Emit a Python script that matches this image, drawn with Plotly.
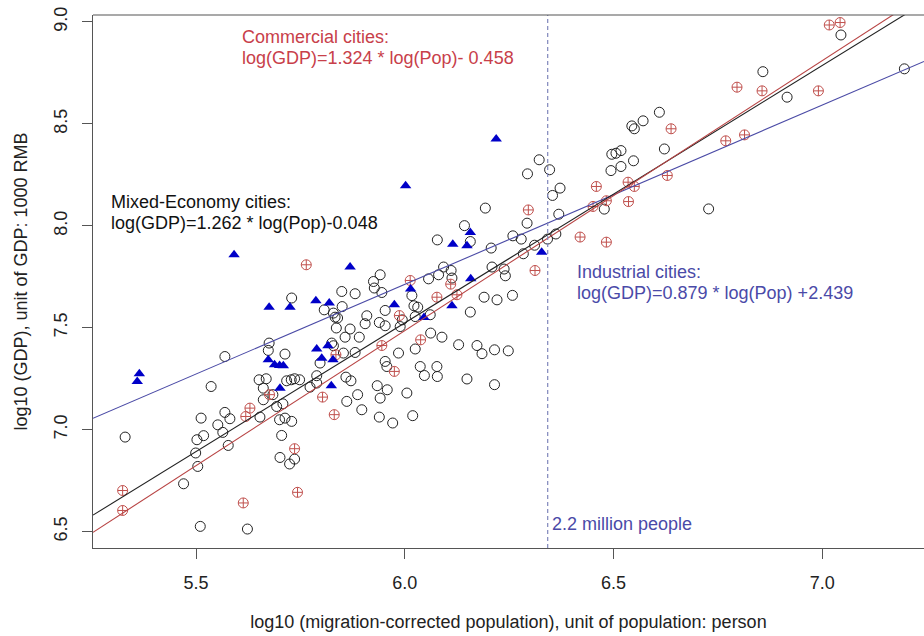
import math
import plotly.graph_objects as go

# ---- data (log10 population, log10 GDP) ----
mixed_x = [5.330, 5.536, 5.569, 5.675, 5.673, 5.713, 5.651, 5.668, 5.717, 5.728, 5.736, 5.748, 5.773, 5.789,
           5.807, 5.829, 5.850, 5.833, 5.839, 5.836, 5.857, 5.825, 5.829, 5.797, 5.789, 5.661, 5.684, 5.661,
           5.708, 5.693, 5.569, 5.581, 5.512, 5.502, 5.518, 5.552, 5.564, 5.577, 5.653, 5.700, 5.713, 5.729,
           5.705, 5.701, 5.724, 5.736, 5.499, 5.504, 5.470, 5.510, 5.623, 5.861, 5.859, 5.853, 6.372, 6.354,
           6.193, 6.293, 6.143, 6.157, 6.078, 6.369, 6.362, 6.342, 6.311, 6.284, 6.259, 6.279, 6.207, 6.209,
           6.238, 6.241, 6.093, 6.111, 6.113, 6.057, 6.081, 5.941, 5.925, 5.927, 5.945, 5.881, 5.849, 6.017,
           6.190, 6.221, 6.258, 6.022, 6.031, 5.909, 5.905, 5.953, 5.939, 5.953, 5.989, 5.994, 6.025, 6.061,
           6.157, 5.869, 5.891, 6.062, 6.089, 6.129, 6.173, 6.185, 6.215, 6.248, 5.881, 5.985, 6.025, 5.953,
           5.957, 6.037, 6.047, 6.077, 6.078, 6.149, 6.215, 5.871, 5.887, 5.897, 5.934, 5.958, 5.941, 6.005,
           5.939, 5.971, 6.019, 7.045, 7.197, 6.858, 6.916, 6.610, 6.571, 6.544, 6.550, 6.622, 6.496, 6.506,
           6.518, 6.494, 6.518, 6.548, 6.728, 6.478, 6.322, 6.347, 6.294, 5.729]
mixed_y = [6.964, 7.212, 7.359, 7.425, 7.389, 7.371, 7.245, 7.250, 7.240, 7.245, 7.250, 7.245, 7.209, 7.229,
           7.588, 7.572, 7.604, 7.552, 7.548, 7.499, 7.454, 7.425, 7.412, 7.327, 7.265, 7.204, 7.172, 7.147,
           7.127, 7.114, 7.085, 7.054, 7.057, 6.951, 6.971, 7.024, 6.987, 6.923, 7.062, 7.049, 7.057, 7.041,
           6.972, 6.864, 6.832, 6.856, 6.886, 6.820, 6.735, 6.526, 6.513, 7.139, 7.258, 7.376, 8.185, 8.149,
           8.087, 8.013, 8.001, 7.923, 7.931, 8.057, 7.960, 7.935, 7.905, 7.863, 7.951, 7.935, 7.891, 7.798,
           7.788, 7.755, 7.798, 7.781, 7.744, 7.740, 7.760, 7.760, 7.727, 7.695, 7.673, 7.667, 7.678, 7.658,
           7.650, 7.637, 7.659, 7.608, 7.601, 7.559, 7.520, 7.585, 7.526, 7.510, 7.506, 7.539, 7.555, 7.564,
           7.577, 7.494, 7.454, 7.474, 7.454, 7.417, 7.413, 7.373, 7.392, 7.387, 7.379, 7.376, 7.396, 7.335,
           7.310, 7.310, 7.266, 7.310, 7.261, 7.249, 7.221, 7.240, 7.172, 7.098, 7.216, 7.196, 7.155, 7.180,
           7.062, 7.033, 7.069, 8.936, 8.770, 8.756, 8.631, 8.557, 8.515, 8.490, 8.476, 8.377, 8.351, 8.356,
           8.369, 8.271, 8.291, 8.319, 8.083, 8.082, 8.324, 8.275, 8.255, 7.646]

commercial_x = [5.324, 5.324, 5.619, 5.629, 5.676, 5.736, 5.743, 5.613, 5.803, 5.831, 5.835, 5.764, 6.296,
                6.459, 6.451, 6.420, 6.312, 6.013, 6.110, 6.077, 6.125, 5.987, 5.945, 6.038, 5.975, 7.017,
                7.043, 6.796, 6.856, 6.991, 6.638, 6.769, 6.814, 6.629, 6.535, 6.550, 6.483, 6.536, 6.483]
commercial_y = [6.702, 6.604, 7.065, 7.106, 7.172, 6.907, 6.693, 6.641, 7.160, 7.074, 7.368, 7.809, 8.078,
                8.193, 8.095, 7.945, 7.781, 7.732, 7.714, 7.650, 7.662, 7.560, 7.413, 7.441, 7.286, 8.985,
                8.997, 8.680, 8.662, 8.662, 8.476, 8.417, 8.446, 8.247, 8.214, 8.193, 8.123, 8.119, 7.920]

industrial_x = [5.359, 5.364, 5.675, 5.725, 5.787, 5.819, 5.673, 5.688, 5.700, 5.709, 5.701, 5.789, 5.816,
                5.801, 5.828, 5.824, 6.002, 5.869, 6.157, 6.115, 6.149, 6.014, 5.975, 6.113, 6.158, 6.046,
                6.328, 5.591, 6.219]
industrial_y = [7.237, 7.275, 7.601, 7.601, 7.632, 7.621, 7.343, 7.319, 7.315, 7.314, 7.204, 7.396, 7.412,
                7.351, 7.343, 7.216, 8.196, 7.798, 7.967, 7.910, 7.902, 7.690, 7.613, 7.608, 7.740, 7.551,
                7.871, 7.858, 8.426]

# regression fits: slope, intercept
fit_names = ["Industrial", "Mixed", "Commercial"]
fit_slopes = [0.879, 1.262, 1.324]
fit_intercepts = [2.439, -0.048, -0.458]
fit_colors = ["#4b4ba6", "#222222", "#b84444"]

threshold_pop = 2.2e6  # 2.2 million people

x_range = [5.253, 7.244]
y_range = [6.42, 9.034]

FONT = "Arial, 'Liberation Sans', sans-serif"
RED = "#c8404a"
BLUE = "#4a4aa8"

fig = go.Figure()

fig.add_trace(go.Scatter(x=mixed_x, y=mixed_y, mode="markers", name="Mixed",
                         marker=dict(symbol="circle-open", size=10, color="#222222",
                                     line=dict(width=1, color="#222222"))))
fig.add_trace(go.Scatter(x=commercial_x, y=commercial_y, mode="markers", name="Commercial",
                         marker=dict(symbol="circle-cross-open", size=10, color="#c0504d",
                                     line=dict(width=1, color="#c0504d"))))
fig.add_trace(go.Scatter(x=industrial_x, y=industrial_y, mode="markers", name="Industrial",
                         marker=dict(symbol="triangle-up", size=10, color="#0000c8",
                                     line=dict(width=0))))

for name, a, b, c in zip(fit_names, fit_slopes, fit_intercepts, fit_colors):
    xs = [x_range[0], x_range[1]]
    ys = [a * v + b for v in xs]
    fig.add_trace(go.Scatter(x=xs, y=ys, mode="lines", name=name + " fit",
                             line=dict(color=c, width=1.1)))

thr = math.log10(threshold_pop)
fig.add_shape(type="line", x0=thr, x1=thr, y0=0, y1=1, xref="x", yref="paper",
              line=dict(color="#7f86bb", width=1.2, dash="4px,3px"))
# top frame line
fig.add_shape(type="line", x0=0, x1=1, y0=1, y1=1, xref="paper", yref="paper",
              line=dict(color="#555555", width=1.2))

def ann(x, y, text, color):
    fig.add_annotation(x=x, y=y, text=text, showarrow=False, xanchor="left", yanchor="middle",
                       font=dict(family=FONT, size=18, color=color))

ann(5.605, 8.924, "Commercial cities:", RED)
ann(5.605, 8.822, "log(GDP)=1.324 * log(Pop)- 0.458", RED)
ann(5.291, 8.115, "Mixed-Economy cities:", "#111111")
ann(5.291, 8.013, "log(GDP)=1.262 * log(Pop)-0.048", "#111111")
ann(6.407, 7.772, "Industrial cities:", BLUE)
ann(6.407, 7.670, "log(GDP)=0.879 * log(Pop) +2.439", BLUE)
ann(6.349, 6.539, "2.2 million people", BLUE)

fig.update_layout(
    width=924, height=636,
    margin=dict(l=93, r=0, t=15, b=88),
    paper_bgcolor="white", plot_bgcolor="white",
    showlegend=False,
    font=dict(family=FONT, size=18, color="#222222"),
    xaxis=dict(range=x_range, tickvals=[5.5, 6.0, 6.5, 7.0], ticktext=["5.5", "6.0", "6.5", "7.0"],
               showgrid=False, zeroline=False, showline=True, linecolor="#555555", linewidth=1.2,
               ticks="outside", ticklen=10, tickcolor="#555555", tickfont=dict(size=18, color="#222222"),
               ticklabelstandoff=8,
               title=dict(text="log10 (migration-corrected population), unit of population: person",
                          font=dict(size=18, color="#222222"), standoff=23)),
    yaxis=dict(range=y_range, tickvals=[6.5, 7.0, 7.5, 8.0, 8.5, 9.0],
               ticktext=["6.5", "7.0", "7.5", "8.0", "8.5", "9.0"], tickangle=-90,
               showgrid=False, zeroline=False, showline=True, linecolor="#555555", linewidth=1.2,
               ticks="outside", ticklen=10, tickcolor="#555555", tickfont=dict(size=18, color="#222222"),
               ticklabelstandoff=8,
               title=dict(text="log10 (GDP), unit of GDP: 1000 RMB",
                          font=dict(size=18, color="#222222"), standoff=18)),
)

fig.write_html("out.html")
